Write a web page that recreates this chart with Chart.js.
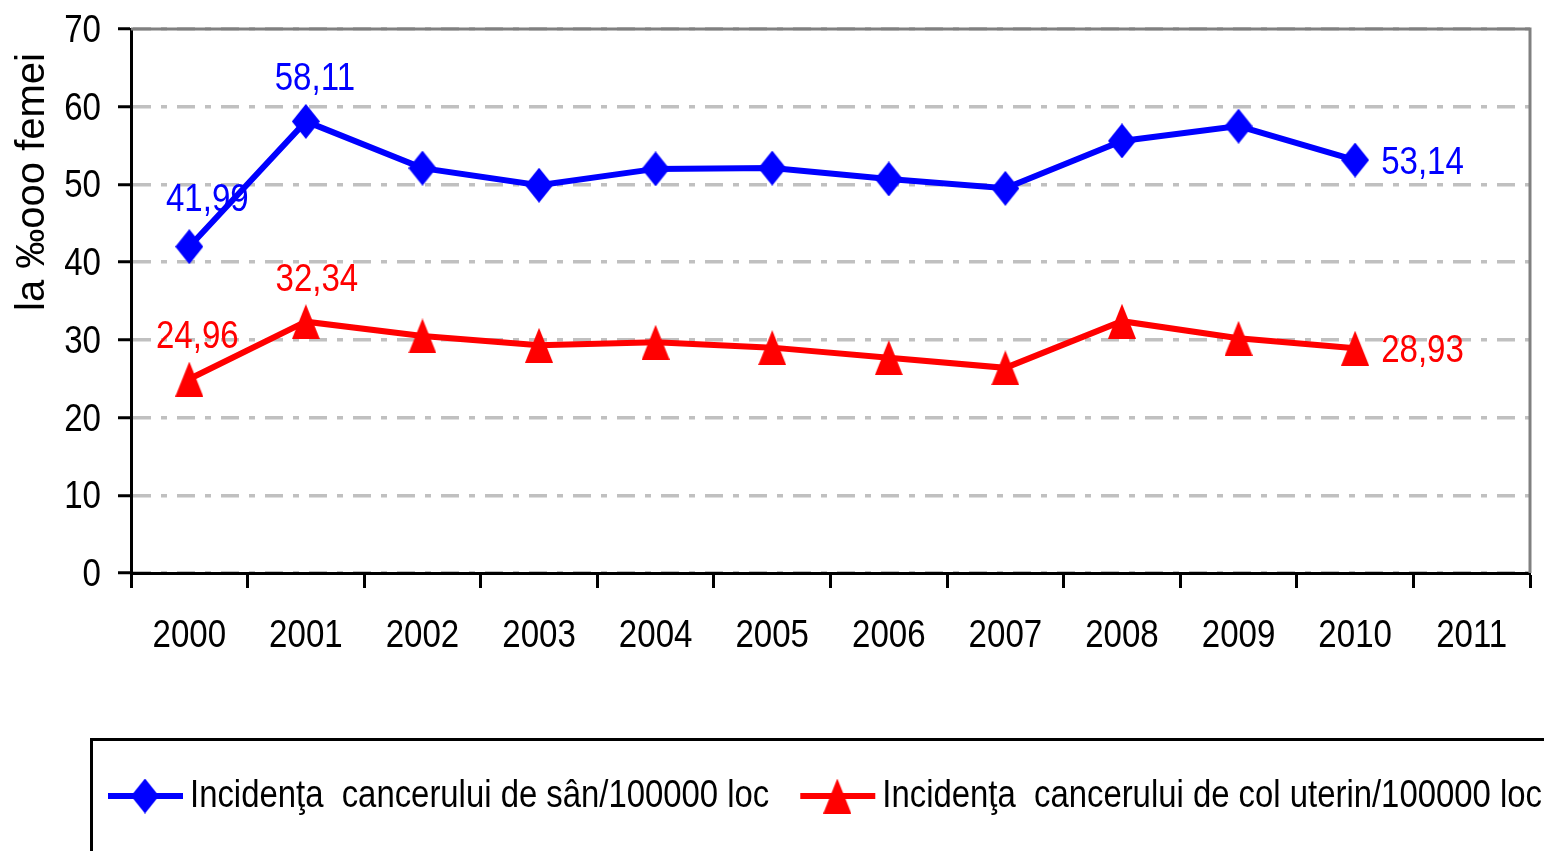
<!DOCTYPE html>
<html>
<head>
<meta charset="utf-8">
<script src="https://cdn.jsdelivr.net/npm/chart.js@4"></script>
<style>
  body { margin: 0; background: #ffffff; }
  canvas { display: block; }
</style>
</head>
<body>
<canvas id="incidenceChart" width="1544" height="851"></canvas>
<script>
const years = ['2000', '2001', '2002', '2003', '2004', '2005', '2006', '2007', '2008', '2009', '2010', '2011'];
const breastCancer = [41.99, 58.11, 52.1, 49.9, 52.0, 52.1, 50.7, 49.5, 55.6, 57.5, 53.14, null];
const cervicalCancer = [24.96, 32.34, 30.5, 29.3, 29.7, 29.0, 27.7, 26.4, 32.4, 30.2, 28.93, null];
const seriesNames = [
    'Incidenţa  cancerului de sân/100000 loc',
    'Incidenţa  cancerului de col uterin/100000 loc'
];
const yTitle = 'la ‰ooo femei';
const labelledPoints = [0, 1, 10];

const FONT = "'Liberation Sans', Arial, sans-serif";
const NARROW = 0.87; // the original text is an Arial Narrow look

// draw text squeezed horizontally
function narrowText(ctx, text, x, y, align, sx) {
    ctx.save();
    ctx.translate(x, y);
    ctx.scale(sx || NARROW, 1);
    ctx.textAlign = align;
    ctx.textBaseline = 'alphabetic';
    ctx.fillText(text, 0, 0);
    ctx.restore();
}

// marker images so the shapes can be taller than wide
function makeMarker(kind, color) {
    const w = 28, h = 35;
    const c = document.createElement('canvas');
    c.width = w;
    c.height = h;
    const g = c.getContext('2d');
    g.fillStyle = color;
    g.beginPath();
    if (kind === 'diamond') {
        g.moveTo(w / 2, 0);
        g.lineTo(w, h / 2);
        g.lineTo(w / 2, h);
        g.lineTo(0, h / 2);
    } else {
        g.moveTo(w / 2, 0);
        g.lineTo(w, h);
        g.lineTo(0, h);
    }
    g.closePath();
    g.fill();
    return c;
}

const diamond = makeMarker('diamond', '#0000ff');
const triangle = makeMarker('triangle', '#ff0000');

const fmt = v => v.toFixed(2).replace('.', ',');

// gray frame top/right + axis tick labels
const framePlugin = {
    id: 'frame',
    beforeDatasetsDraw(chart) {
        const { ctx, chartArea: a } = chart;
        ctx.save();
        ctx.strokeStyle = '#808080';
        ctx.lineWidth = 3;
        ctx.beginPath();
        ctx.moveTo(a.left, a.top);
        ctx.lineTo(a.right, a.top);
        ctx.lineTo(a.right, a.bottom);
        ctx.stroke();

        ctx.fillStyle = '#000000';
        ctx.font = '38px ' + FONT;
        const xs = chart.scales.x;
        chart.data.labels.forEach((lab, i) => {
            narrowText(ctx, lab, xs.getPixelForTick(i), 647, 'center');
        });
        const ys = chart.scales.y;
        ys.ticks.forEach(t => {
            narrowText(ctx, String(t.value), 101, ys.getPixelForValue(t.value) + 13, 'right');
        });
        ctx.restore();
    }
};

// value labels on first, second and last points
const valueLabels = {
    id: 'valueLabels',
    afterDatasetsDraw(chart) {
        const ctx = chart.ctx;
        ctx.save();
        ctx.font = '38px ' + FONT;
        chart.data.datasets.forEach((ds, di) => {
            const meta = chart.getDatasetMeta(di);
            labelledPoints.forEach((idx, k) => {
                const pt = meta.data[idx];
                const v = ds.data[idx];
                if (!pt || v == null) return;
                ctx.fillStyle = ds.borderColor;
                if (k === labelledPoints.length - 1) {
                    narrowText(ctx, fmt(v), pt.x + 26, pt.y + 14, 'left');
                } else {
                    const dx = idx === 0 ? (di === 0 ? 18 : 8) : (di === 0 ? 9 : 11);
                    const dy = (di === 0 && idx === 0) ? -36 : -31;
                    narrowText(ctx, fmt(v), pt.x + dx, pt.y + dy, 'center');
                }
            });
        });
        ctx.restore();
    }
};

// rotated y title + boxed legend at bottom
const extras = {
    id: 'extras',
    afterDraw(chart) {
        const ctx = chart.ctx;
        ctx.save();
        ctx.fillStyle = '#000000';
        ctx.font = '40px ' + FONT;
        ctx.textAlign = 'center';
        ctx.textBaseline = 'alphabetic';
        ctx.translate(44, 182);
        ctx.rotate(-Math.PI / 2);
        ctx.fillText(yTitle, 0, 0);
        ctx.restore();

        ctx.save();
        ctx.strokeStyle = '#000000';
        ctx.lineWidth = 3;
        ctx.strokeRect(91.5, 739.5, 1600, 200);
        ctx.font = '38px ' + FONT;
        const y = 796;
        let x = 108;
        chart.data.datasets.forEach(ds => {
            ctx.strokeStyle = ds.borderColor;
            ctx.lineWidth = 6;
            ctx.beginPath();
            ctx.moveTo(x, y);
            ctx.lineTo(x + 75, y);
            ctx.stroke();
            const img = ds.pointStyle;
            ctx.drawImage(img, x + 37 - img.width / 2, y - img.height / 2);
            ctx.fillStyle = '#000000';
            narrowText(ctx, ds.label, x + 82, 807, 'left', 0.865);
            x += 82 + ctx.measureText(ds.label).width * 0.865 + 31;
        });
        ctx.restore();
    }
};

const ctx = document.getElementById('incidenceChart').getContext('2d');

new Chart(ctx, {
    type: 'line',
    data: {
        labels: years,
        datasets: [{
            label: seriesNames[0],
            data: breastCancer,
            borderColor: '#0000ff',
            backgroundColor: '#0000ff',
            borderWidth: 6,
            pointStyle: diamond,
            pointRadius: 15,
            tension: 0
        }, {
            label: seriesNames[1],
            data: cervicalCancer,
            borderColor: '#ff0000',
            backgroundColor: '#ff0000',
            borderWidth: 6,
            pointStyle: triangle,
            pointRadius: 15,
            tension: 0
        }]
    },
    options: {
        responsive: false,
        animation: false,
        devicePixelRatio: 1,
        layout: {
            autoPadding: false,
            padding: { left: 0, top: 29, right: 14, bottom: 0 }
        },
        plugins: {
            legend: { display: false },
            tooltip: { enabled: false }
        },
        scales: {
            x: {
                offset: true,
                afterFit: scale => { scale.height = 278; },
                grid: {
                    offset: true,
                    drawOnChartArea: false,
                    tickLength: 15,
                    tickColor: '#000000',
                    tickWidth: 3
                },
                border: { color: '#000000', width: 3 },
                ticks: { display: false }
            },
            y: {
                min: 0,
                max: 70,
                afterFit: scale => { scale.width = 131; },
                grid: {
                    color: '#c0c0c0',
                    lineWidth: 3.5,
                    tickLength: 13,
                    tickColor: '#000000',
                    tickWidth: 3,
                    tickBorderDash: []
                },
                border: { color: '#000000', width: 3, dash: [18, 10, 6, 10] },
                ticks: { display: false, stepSize: 10 }
            }
        }
    },
    plugins: [framePlugin, valueLabels, extras]
});
</script>
</body>
</html>
